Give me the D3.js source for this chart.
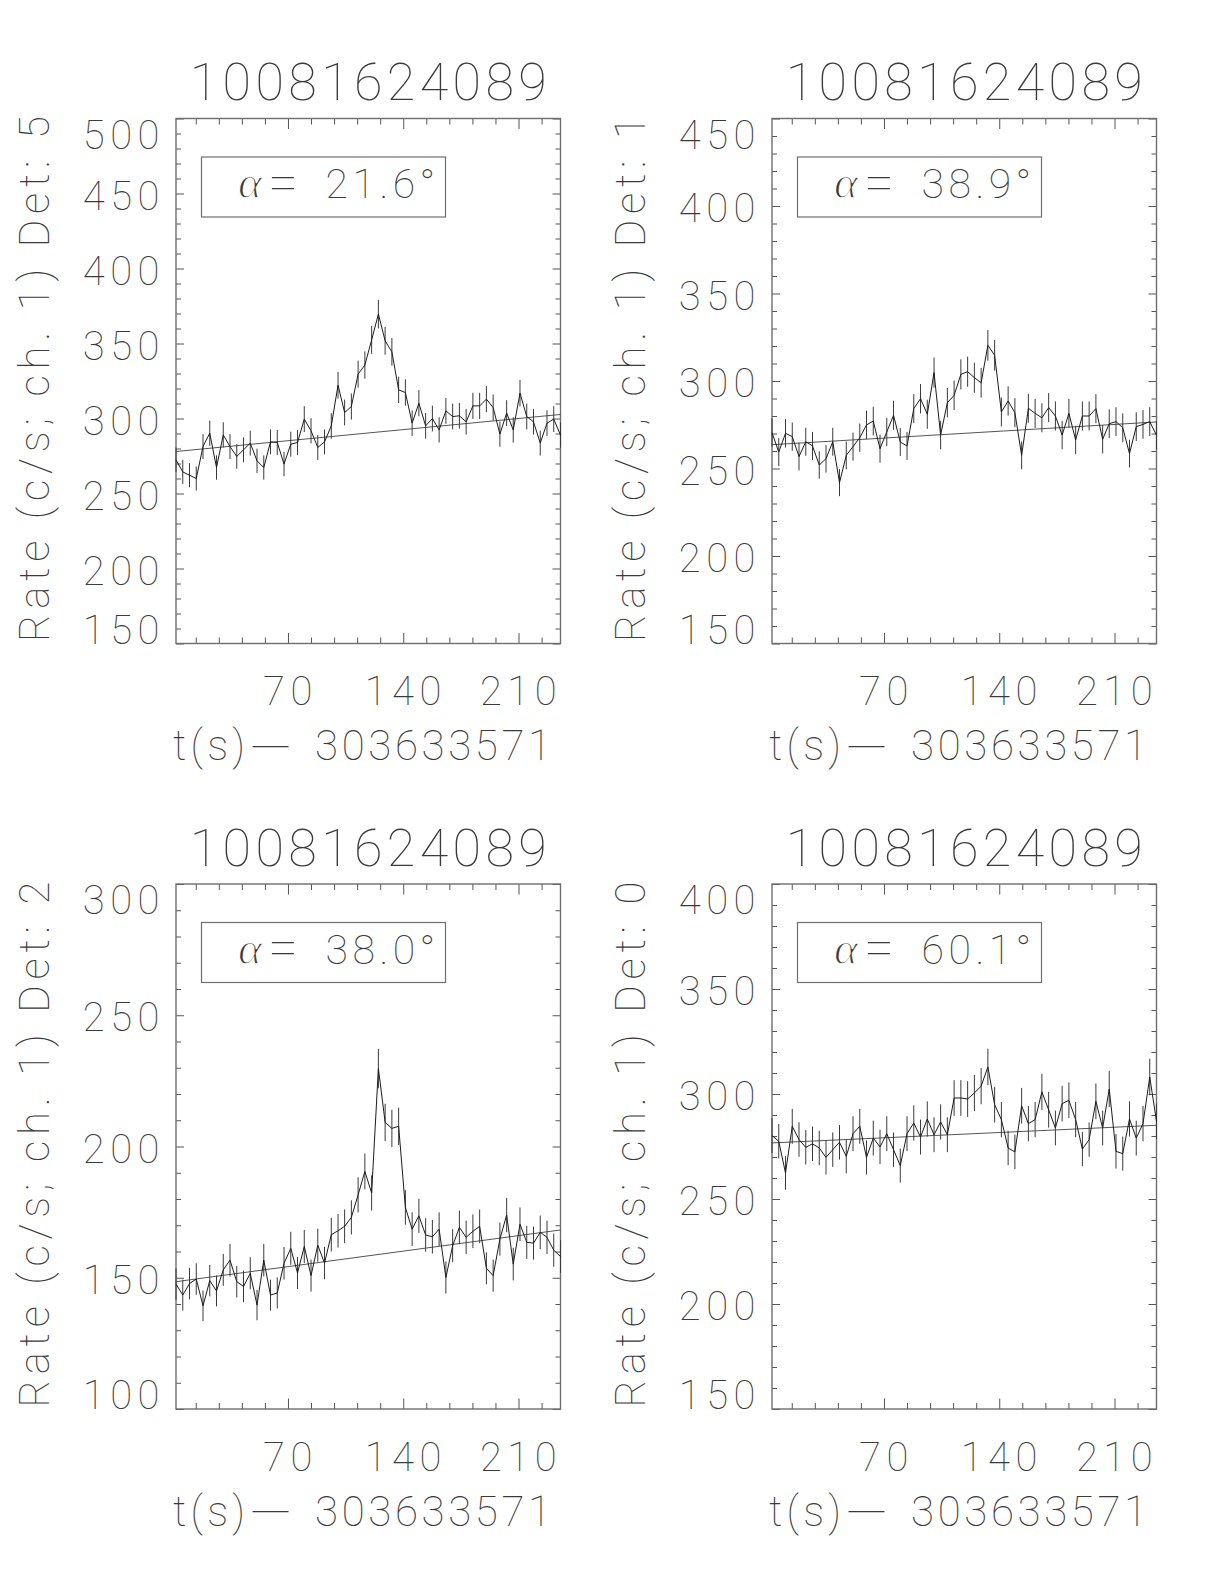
<!DOCTYPE html>
<html>
<head>
<meta charset="utf-8">
<script src="https://cdn.jsdelivr.net/npm/d3@7"></script>
<style>
  body { margin: 0; background: #fff; }
  svg text { font-family: "Roboto", "Lato", "DejaVu Sans", sans-serif; font-weight: 100; fill: #3a3a3a; }
  svg text.greek { font-family: "Liberation Serif", "DejaVu Serif", serif; font-weight: normal; font-style: italic;
      fill: #3a3a3a; stroke: #fff; stroke-width: 1.3; }
</style>
</head>
<body>
<div id="chart"></div>
<script>
// bin centres (s after trigger - 303633571)
var timeBins = [2.0, 6.1, 10.2, 14.3, 18.4, 22.5, 26.6, 30.7, 34.8, 38.9,
    43.0, 47.1, 51.2, 55.3, 59.4, 63.5, 67.6, 71.7, 75.8, 79.9,
    84.0, 88.1, 92.2, 96.3, 100.4, 104.4, 108.5, 112.6, 116.7, 120.8,
    124.9, 129.0, 133.1, 137.2, 141.3, 145.4, 149.5, 153.6, 157.7, 161.8,
    165.9, 170.0, 174.1, 178.2, 182.3, 186.4, 190.5, 194.6, 198.7, 202.8,
    206.8, 210.9, 215.0, 219.1, 223.2, 227.3, 231.4, 235.5];

var rateDet5 = [272.4, 264.4, 262.2, 260.0, 281.3, 290.2, 267.3, 289.1, 281.3, 274.7,
    279.1, 283.6, 271.8, 267.3, 284.4, 284.0, 269.6, 282.9, 284.0, 299.6,
    291.8, 280.7, 284.4, 295.1, 322.2, 304.0, 308.0, 329.6, 335.6, 352.4,
    369.6, 351.8, 344.4, 319.1, 317.3, 296.9, 310.2, 295.1, 300.0, 292.4,
    305.1, 301.3, 301.8, 297.8, 308.4, 308.4, 312.9, 307.3, 289.6, 303.6,
    292.4, 316.9, 301.3, 297.8, 283.6, 296.9, 299.6, 288.9];
var errDet5 = [8.2, 8.0, 8.0, 8.0, 8.3, 8.4, 8.1, 8.4, 8.3, 8.2,
    8.3, 8.3, 8.1, 8.1, 8.3, 8.3, 8.1, 8.3, 8.3, 8.6,
    8.4, 8.3, 8.3, 8.5, 8.9, 8.6, 8.7, 9.0, 9.1, 9.3,
    9.5, 9.3, 9.2, 8.8, 8.8, 8.5, 8.7, 8.5, 8.6, 8.4,
    8.6, 8.6, 8.6, 8.5, 8.7, 8.7, 8.7, 8.7, 8.4, 8.6,
    8.4, 8.8, 8.6, 8.5, 8.3, 8.5, 8.6, 8.4];

var rateDet1 = [270.5, 259.4, 270.1, 268.2, 256.8, 265.3, 262.9, 252.0, 255.6, 265.3,
    241.9, 257.5, 262.5, 267.6, 274.9, 277.1, 261.3, 270.9, 280.4, 265.1,
    262.9, 284.2, 289.9, 281.0, 304.8, 269.1, 287.6, 291.8, 303.8, 305.3,
    301.9, 299.0, 320.4, 314.7, 282.3, 288.6, 281.9, 257.5, 284.4, 281.5,
    279.0, 284.8, 280.0, 269.1, 281.5, 266.3, 280.0, 280.0, 284.2, 266.7,
    275.6, 276.8, 273.3, 258.5, 273.9, 275.2, 276.8, 269.0];
var errDet1 = [8.1, 8.0, 8.1, 8.1, 7.9, 8.0, 8.0, 7.8, 7.9, 8.0,
    7.7, 7.9, 8.0, 8.1, 8.2, 8.2, 8.0, 8.1, 8.3, 8.0,
    8.0, 8.3, 8.4, 8.3, 8.6, 8.1, 8.4, 8.4, 8.6, 8.6,
    8.6, 8.5, 8.8, 8.8, 8.3, 8.4, 8.3, 7.9, 8.3, 8.3,
    8.3, 8.3, 8.3, 8.1, 8.3, 8.1, 8.3, 8.3, 8.3, 8.1,
    8.2, 8.2, 8.2, 7.9, 8.2, 8.2, 8.2, 8.1];

var rateDet2 = [147.6, 143.4, 147.8, 149.5, 139.3, 148.9, 145.0, 153.0, 156.7, 148.5,
    146.7, 151.7, 139.6, 156.7, 143.4, 144.2, 155.5, 161.2, 151.8, 161.9,
    150.8, 162.4, 155.6, 166.4, 167.9, 169.6, 173.0, 181.6, 190.5, 182.3,
    229.7, 209.2, 206.9, 207.7, 176.8, 168.5, 173.6, 166.3, 165.6, 168.5,
    150.1, 162.2, 169.2, 165.4, 167.7, 169.6, 153.6, 150.8, 164.7, 173.9,
    155.2, 170.4, 163.5, 163.2, 167.3, 165.4, 160.5, 158.1];
var errDet2 = [6.0, 5.9, 6.0, 6.0, 5.8, 6.0, 5.9, 6.1, 6.2, 6.0,
    6.0, 6.1, 5.8, 6.2, 5.9, 5.9, 6.2, 6.3, 6.1, 6.3,
    6.1, 6.3, 6.2, 6.4, 6.4, 6.4, 6.5, 6.7, 6.8, 6.7,
    7.5, 7.1, 7.1, 7.1, 6.6, 6.4, 6.5, 6.4, 6.4, 6.4,
    6.1, 6.3, 6.4, 6.4, 6.4, 6.4, 6.1, 6.1, 6.3, 6.5,
    6.2, 6.4, 6.3, 6.3, 6.4, 6.4, 6.3, 6.2];

var rateDet0 = [280.2, 277.5, 262.4, 284.6, 278.3, 274.6, 276.3, 274.3, 269.8, 273.5,
    277.0, 270.3, 281.1, 284.6, 269.8, 279.0, 274.8, 281.1, 273.5, 265.9,
    281.1, 286.2, 279.5, 288.1, 280.6, 286.7, 280.6, 298.1, 298.1, 297.6,
    300.5, 303.7, 312.9, 294.9, 287.8, 274.3, 272.4, 294.4, 285.9, 287.8,
    301.0, 292.5, 283.8, 295.4, 297.0, 287.8, 273.8, 278.3, 296.5, 283.8,
    302.4, 272.7, 271.6, 288.1, 279.0, 285.9, 308.1, 287.0];
var errDet0 = [8.3, 8.2, 8.0, 8.3, 8.2, 8.2, 8.2, 8.2, 8.1, 8.2,
    8.2, 8.1, 8.3, 8.3, 8.1, 8.3, 8.2, 8.3, 8.2, 8.1,
    8.3, 8.4, 8.3, 8.4, 8.3, 8.4, 8.3, 8.5, 8.5, 8.5,
    8.6, 8.6, 8.7, 8.5, 8.4, 8.2, 8.2, 8.5, 8.4, 8.4,
    8.6, 8.5, 8.3, 8.5, 8.5, 8.4, 8.2, 8.2, 8.5, 8.3,
    8.6, 8.2, 8.1, 8.4, 8.3, 8.4, 8.7, 8.4];

// background fit, given at the first and last bin
var bgTimes = [2.0, 235.5];
var bgDet5 = [278.0, 302.7];
var bgDet1 = [263.6, 276.6];
var bgDet2 = [148.5, 168.2];
var bgDet0 = [276.7, 285.1];

var panelTitles = ["10081624089", "10081624089", "10081624089", "10081624089"];
var detIds = [5, 1, 2, 0];
var alphaDeg = ["21.6", "38.9", "38.0", "60.1"];
var yLow = [150, 150, 100, 150];
var yHigh = [500, 450, 300, 400];
var xMajorTicks = [70, 140, 210];
var xTitleParts = ["t(s)", "\u2212", "303633571"];

var panels = [
    {title: panelTitles[0], det: detIds[0], alpha: alphaDeg[0], lo: yLow[0], hi: yHigh[0], rate: rateDet5, err: errDet5, bg: bgDet5},
    {title: panelTitles[1], det: detIds[1], alpha: alphaDeg[1], lo: yLow[1], hi: yHigh[1], rate: rateDet1, err: errDet1, bg: bgDet1},
    {title: panelTitles[2], det: detIds[2], alpha: alphaDeg[2], lo: yLow[2], hi: yHigh[2], rate: rateDet2, err: errDet2, bg: bgDet2},
    {title: panelTitles[3], det: detIds[3], alpha: alphaDeg[3], lo: yLow[3], hi: yHigh[3], rate: rateDet0, err: errDet0, bg: bgDet0}
];

var W = 1224, H = 1584;
var cols = [176, 772], rows = [118.5, 884];
var plotW = 384.5, plotH = 525;

var svg = d3.select("#chart").append("svg")
        .attr("width", W)
        .attr("height", H)
        .attr("xmlns", "http://www.w3.org/2000/svg");
svg.append("rect").attr("width", W).attr("height", H).attr("fill", "#fff");

function tickAxis(g, axis, values, size, tx, ty) {
    g.append("g")
            .attr("transform", "translate(" + tx + "," + ty + ")")
            .attr("color", "#555")
            .call(axis.tickValues(values).tickSize(-size).tickFormat(""))
            .call(function (a) { a.select(".domain").remove(); })
            .selectAll("line").attr("stroke-width", 1);
}

function drawPanel(p, i) {
    var g = svg.append("g")
            .attr("transform", "translate(" + cols[i % 2] + "," + rows[Math.floor(i / 2)] + ")");

    var x = d3.scaleLinear().domain(d3.extent(timeBins)).range([0, plotW]);
    var y = d3.scaleLinear().domain([p.lo, p.hi]).range([plotH, 0]);

    var xMinor = d3.range(14, x.domain()[1], 14).filter(function (v) { return xMajorTicks.indexOf(v) < 0; });
    var yMajor = d3.range(p.lo, p.hi + 1, 50);
    var yMinor = d3.range(p.lo + 10, p.hi, 10).filter(function (v) { return v % 50 !== 0; });

    // ticks pointing inwards on all four sides
    tickAxis(g, d3.axisBottom(x), xMinor, 6, 0, plotH);
    tickAxis(g, d3.axisBottom(x), xMajorTicks, 10.5, 0, plotH);
    tickAxis(g, d3.axisTop(x), xMinor, 6, 0, 0);
    tickAxis(g, d3.axisTop(x), xMajorTicks, 10.5, 0, 0);
    tickAxis(g, d3.axisLeft(y), yMinor, 5, 0, 0);
    tickAxis(g, d3.axisLeft(y), yMajor, 8, 0, 0);
    tickAxis(g, d3.axisRight(y), yMinor, 5, plotW, 0);
    tickAxis(g, d3.axisRight(y), yMajor, 8, plotW, 0);

    g.append("rect")
            .attr("width", plotW)
            .attr("height", plotH)
            .attr("fill", "none")
            .attr("stroke", "#6e6e6e")
            .attr("stroke-width", 1.4);

    // y tick labels, end labels kept inside the frame height
    g.selectAll("text.ylab").data(yMajor).enter().append("text")
            .attr("class", "ylab")
            .attr("x", -11)
            .attr("y", function (v) {
                if (v === p.hi) return y(v) + 30;
                if (v === p.lo) return y(v);
                return y(v) + 16;
            })
            .attr("text-anchor", "end")
            .attr("font-size", 40)
            .attr("letter-spacing", 5.5)
            .text(function (v) { return v; });

    g.selectAll("text.xlab").data(xMajorTicks).enter().append("text")
            .attr("class", "xlab")
            .attr("x", function (v) { return x(v) + 2.5; })
            .attr("y", plotH + 61.5)
            .attr("text-anchor", "middle")
            .attr("font-size", 40)
            .attr("letter-spacing", 5.5)
            .text(function (v) { return v; });

    // x title: "t(s)" , long minus, offset
    g.append("text")
            .attr("x", -3)
            .attr("y", plotH + 116.5)
            .attr("font-size", 42)
            .attr("textLength", 72)
            .attr("lengthAdjust", "spacing")
            .text(xTitleParts[0]);
    g.append("text")
            .attr("transform", "translate(95," + (plotH + 118) + ") scale(2.1,1)")
            .attr("text-anchor", "middle")
            .attr("font-size", 42)
            .text(xTitleParts[1]);
    g.append("text")
            .attr("x", 139)
            .attr("y", plotH + 116.5)
            .attr("font-size", 42)
            .attr("textLength", 236)
            .attr("lengthAdjust", "spacing")
            .text(xTitleParts[2]);

    g.append("text")
            .attr("transform", "translate(-127.5," + (plotH / 2 - 2) + ") rotate(-90)")
            .attr("text-anchor", "middle")
            .attr("font-size", 42)
            .attr("textLength", 526)
            .attr("lengthAdjust", "spacing")
            .text("Rate (c/s; ch. 1) Det: " + p.det);

    g.append("text")
            .attr("x", plotW / 2)
            .attr("y", -18.5)
            .attr("text-anchor", "middle")
            .attr("font-size", 52)
            .attr("textLength", 357)
            .attr("lengthAdjust", "spacing")
            .text(p.title);

    // angle box
    g.append("rect")
            .attr("x", 25.5)
            .attr("y", 38.5)
            .attr("width", 244)
            .attr("height", 60)
            .attr("fill", "none")
            .attr("stroke", "#6e6e6e")
            .attr("stroke-width", 1.2);
    g.append("text")
            .attr("class", "greek")
            .attr("x", 62)
            .attr("y", 79.5)
            .attr("font-size", 46)
            .text("\u03b1");
    g.append("text")
            .attr("x", 92)
            .attr("y", 82)
            .attr("font-size", 54)
            .text("=");
    g.append("text")
            .attr("x", 149.5)
            .attr("y", 79.5)
            .attr("font-size", 41)
            .attr("letter-spacing", 4.5)
            .text(p.alpha + "\u00b0");

    // background fit
    var bgLine = d3.line()
            .x(function (d) { return x(d[0]); })
            .y(function (d) { return y(d[1]); });
    g.append("path")
            .attr("d", bgLine(d3.zip(bgTimes, p.bg)))
            .attr("fill", "none")
            .attr("stroke", "#555")
            .attr("stroke-width", 1);

    // error bars
    g.selectAll("line.err").data(d3.range(timeBins.length)).enter().append("line")
            .attr("class", "err")
            .attr("x1", function (k) { return x(timeBins[k]); })
            .attr("x2", function (k) { return x(timeBins[k]); })
            .attr("y1", function (k) { return y(p.rate[k] - p.err[k]); })
            .attr("y2", function (k) { return y(p.rate[k] + p.err[k]); })
            .attr("stroke", "#3a3a3a")
            .attr("stroke-width", 1);

    var rateLine = d3.line()
            .x(function (d) { return x(d[0]); })
            .y(function (d) { return y(d[1]); });
    g.append("path")
            .attr("d", rateLine(d3.zip(timeBins, p.rate)))
            .attr("fill", "none")
            .attr("stroke", "#1c1c1c")
            .attr("stroke-width", 1);
}

panels.forEach(drawPanel);
</script>
</body>
</html>
